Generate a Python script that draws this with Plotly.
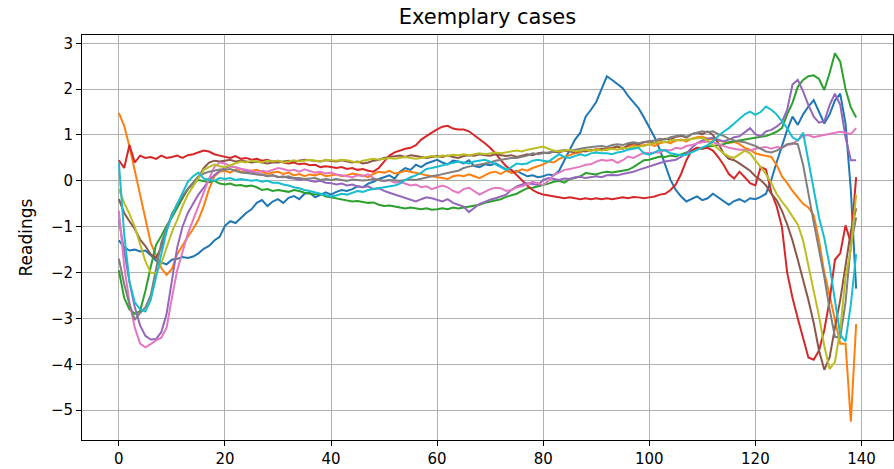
import plotly.graph_objects as go

# Ten exemplary heartbeat recordings, 140 samples each
sample_index = list(range(140))

case_0 = [
    -1.30, -1.45, -1.52, -1.50, -1.54, -1.52, -1.62, -1.74, -1.78, -1.82,
    -1.72, -1.70, -1.66, -1.68, -1.65, -1.58, -1.48, -1.42, -1.30, -1.22,
    -0.98, -0.88, -0.92, -0.80, -0.70, -0.62, -0.48, -0.42, -0.55, -0.45,
    -0.40, -0.48, -0.37, -0.33, -0.40, -0.28, -0.26, -0.36, -0.30, -0.25,
    -0.30, -0.24, -0.20, -0.22, -0.18, -0.12, -0.14, -0.06, -0.02, 0.04,
    0.08, 0.12, 0.05, 0.20, 0.28, 0.24, 0.35, 0.30, 0.38, 0.42,
    0.46, 0.40, 0.36, 0.44, 0.42, 0.38, 0.45, 0.32, 0.30, 0.36,
    0.34, 0.38, 0.32, 0.25, 0.18, 0.22, 0.16, 0.10, 0.12, 0.08,
    0.10, 0.14, 0.12, 0.22, 0.45, 0.68, 0.90, 1.05, 1.40, 1.55,
    1.72, 2.00, 2.28, 2.20, 2.12, 2.02, 1.85, 1.72, 1.58, 1.38,
    1.18, 0.95, 0.68, 0.35, 0.02, -0.20, -0.34, -0.45, -0.40, -0.34,
    -0.42, -0.38, -0.28, -0.36, -0.45, -0.52, -0.44, -0.40, -0.46, -0.38,
    -0.40, -0.35, -0.28, 0.02, 0.40, 0.75, 1.11, 1.40, 1.22, 1.45,
    1.62, 1.76, 1.50, 1.25, 1.45, 1.75, 1.90, 1.25, -0.20, -2.35,
]

case_1 = [
    1.48, 1.20, 0.75, 0.22, -0.36, -0.88, -1.35, -1.62, -1.90, -2.05,
    -1.92, -1.60, -1.40, -1.22, -1.05, -0.85, -0.55, -0.18, 0.10, 0.20,
    0.22, 0.18, 0.25, 0.20, 0.18, 0.22, 0.24, 0.20, 0.15, 0.18,
    0.20, 0.15, 0.18, 0.12, 0.15, 0.10, 0.14, 0.12, 0.16, 0.10,
    0.12, 0.14, 0.10, 0.12, 0.16, 0.14, 0.12, 0.08, 0.15, 0.20,
    0.18, 0.22, 0.16, 0.18, 0.22, 0.20, 0.18, 0.15, 0.12, 0.10,
    0.08, 0.05, 0.04, 0.10, 0.12, 0.10, 0.14, 0.10, 0.06, 0.12,
    0.18, 0.20, 0.15, 0.22, 0.18, 0.20, 0.25, 0.22, 0.28, 0.32,
    0.36, 0.42, 0.40, 0.48, 0.52, 0.55, 0.60, 0.62, 0.68, 0.65,
    0.70, 0.68, 0.72, 0.70, 0.74, 0.72, 0.75, 0.78, 0.76, 0.78,
    0.80, 0.76, 0.82, 0.85, 0.82, 0.88, 0.90, 0.86, 0.92, 0.95,
    0.96, 0.92, 0.90, 0.88, 0.86, 0.82, 0.85, 0.80, 0.72, 0.68,
    0.60, 0.57, 0.55, 0.52, 0.35, 0.10, -0.05, -0.22, -0.36, -0.50,
    -0.58, -0.75, -1.30, -2.00, -2.50, -3.00, -3.55, -3.55, -5.25, -3.12,
]

case_2 = [
    -1.95, -2.55, -2.80, -2.90, -2.84, -2.40, -1.88, -1.40, -1.20, -0.98,
    -0.80, -0.58, -0.38, -0.18, -0.05, 0.02, 0.00, -0.03, 0.00, -0.06,
    -0.08, -0.06, -0.10, -0.09, -0.12, -0.10, -0.14, -0.20, -0.18, -0.22,
    -0.20, -0.22, -0.24, -0.20, -0.22, -0.26, -0.28, -0.30, -0.28, -0.34,
    -0.36, -0.38, -0.40, -0.42, -0.45, -0.44, -0.46, -0.48, -0.47, -0.52,
    -0.55, -0.54, -0.56, -0.58, -0.60, -0.58, -0.60, -0.62, -0.60, -0.63,
    -0.62, -0.60, -0.62, -0.58, -0.60, -0.58, -0.56, -0.54, -0.52, -0.48,
    -0.45, -0.42, -0.40, -0.35, -0.32, -0.28, -0.22, -0.16, -0.15, -0.12,
    -0.10, -0.06, -0.02, 0.00, -0.04, 0.04, 0.06, 0.10, 0.17, 0.15,
    0.14, 0.18, 0.20, 0.18, 0.20, 0.21, 0.24, 0.30, 0.38, 0.45,
    0.46, 0.50, 0.53, 0.52, 0.55, 0.53, 0.58, 0.62, 0.66, 0.72,
    0.70, 0.75, 0.76, 0.78, 0.80, 0.84, 0.86, 0.89, 0.90, 0.92,
    0.94, 0.97, 0.98, 1.02, 1.07, 1.15, 1.45, 1.70, 2.05, 2.20,
    2.28, 2.30, 2.22, 1.98, 2.35, 2.78, 2.60, 2.00, 1.60, 1.38,
]

case_3 = [
    0.45, 0.28, 0.78, 0.40, 0.55, 0.50, 0.52, 0.48, 0.55, 0.50,
    0.52, 0.55, 0.50, 0.56, 0.58, 0.62, 0.66, 0.64, 0.58, 0.55,
    0.52, 0.50, 0.54, 0.48, 0.50, 0.46, 0.48, 0.44, 0.46, 0.42,
    0.44, 0.40, 0.38, 0.40, 0.36, 0.38, 0.34, 0.35, 0.30, 0.32,
    0.30, 0.28, 0.30, 0.26, 0.28, 0.24, 0.26, 0.22, 0.20, 0.28,
    0.42, 0.55, 0.62, 0.66, 0.70, 0.72, 0.78, 0.90, 0.98, 1.05,
    1.12, 1.18, 1.20, 1.14, 1.12, 1.12, 1.08, 1.00, 0.92, 0.82,
    0.72, 0.60, 0.45, 0.32, 0.24, 0.12, 0.02, -0.10, -0.20, -0.26,
    -0.30, -0.32, -0.34, -0.35, -0.38, -0.36, -0.38, -0.40, -0.38, -0.40,
    -0.38, -0.40, -0.38, -0.40, -0.38, -0.36, -0.38, -0.35, -0.36, -0.38,
    -0.36, -0.34, -0.30, -0.28, -0.20, -0.08, 0.15, 0.45, 0.66, 0.72,
    0.70, 0.72, 0.66, 0.52, 0.35, 0.15, 0.05, 0.20, 0.08, -0.05,
    -0.10, 0.30, 0.25, -0.25, -0.55, -1.00, -2.00, -2.55, -3.00, -3.45,
    -3.85, -3.90, -3.70, -3.25, -2.60, -1.72, -1.58, -0.97, -1.35, 0.08,
]

case_4 = [
    -0.85, -1.55, -2.20, -2.75, -3.15, -3.38, -3.46, -3.45, -3.30, -2.90,
    -2.20, -1.45, -1.00, -0.70, -0.50, -0.30, -0.15, 0.02, 0.12, 0.22,
    0.28, 0.32, 0.30, 0.26, 0.22, 0.20, 0.15, 0.14, 0.10, 0.12,
    0.08, 0.10, 0.06, 0.05, 0.02, 0.04, 0.00, -0.02, 0.00, -0.04,
    -0.05, -0.08, -0.06, -0.10, -0.08, -0.12, -0.14, -0.12, -0.18, -0.16,
    -0.22, -0.26, -0.30, -0.34, -0.38, -0.42, -0.45, -0.40, -0.36, -0.38,
    -0.42, -0.45, -0.40, -0.48, -0.52, -0.56, -0.68, -0.60, -0.50, -0.46,
    -0.41, -0.38, -0.34, -0.30, -0.20, -0.12, -0.08, -0.05, -0.07, -0.09,
    0.02, 0.06, 0.04, 0.02, 0.05, 0.04, 0.08, 0.09, 0.06, 0.08,
    0.10, 0.08, 0.12, 0.13, 0.12, 0.15, 0.17, 0.20, 0.24, 0.28,
    0.31, 0.35, 0.39, 0.42, 0.44, 0.46, 0.52, 0.60, 0.72, 0.82,
    0.88, 0.92, 0.94, 0.90, 0.86, 0.90, 0.95, 0.97, 1.06, 1.15,
    1.02, 0.97, 1.08, 1.11, 1.18, 1.28, 1.55, 2.10, 2.20, 1.95,
    1.65, 1.40, 1.27, 1.30, 1.65, 1.90, 1.66, 0.95, 0.45, 0.45,
]

case_5 = [
    -0.40, -0.70, -0.88, -1.05, -1.28, -1.42, -1.60, -1.68, -1.45, -1.10,
    -0.72, -0.52, -0.34, -0.18, -0.05, 0.08, 0.28, 0.40, 0.44, 0.42,
    0.44, 0.46, 0.42, 0.44, 0.42, 0.40, 0.42, 0.40, 0.38, 0.40,
    0.40, 0.42, 0.44, 0.42, 0.44, 0.46, 0.45, 0.44, 0.42, 0.45,
    0.44, 0.42, 0.45, 0.43, 0.40, 0.42, 0.38, 0.40, 0.44, 0.46,
    0.50, 0.52, 0.54, 0.55, 0.52, 0.56, 0.54, 0.52, 0.50, 0.52,
    0.54, 0.52, 0.55, 0.52, 0.50, 0.54, 0.56, 0.55, 0.58, 0.56,
    0.55, 0.58, 0.56, 0.54, 0.56, 0.52, 0.55, 0.58, 0.56, 0.60,
    0.62, 0.60, 0.64, 0.62, 0.66, 0.64, 0.62, 0.66, 0.64, 0.68,
    0.66, 0.70, 0.68, 0.72, 0.75, 0.70, 0.78, 0.82, 0.80, 0.84,
    0.86, 0.82, 0.88, 0.92, 0.90, 0.96, 0.98, 0.94, 1.02, 1.05,
    1.02, 1.08, 1.00, 0.82, 0.60, 0.48, 0.45, 0.38, 0.30, 0.22,
    0.10, 0.02, -0.10, -0.28, -0.42, -0.65, -0.95, -1.30, -1.72, -2.15,
    -2.60, -3.10, -3.70, -4.12, -3.85, -3.20, -2.60, -1.85, -1.10, -0.60,
]

case_6 = [
    -0.65, -1.85, -2.65, -3.20, -3.55, -3.63, -3.56, -3.48, -3.42, -3.20,
    -2.55, -1.95, -1.55, -1.15, -0.85, -0.55, -0.25, 0.05, 0.30, 0.40,
    0.38, 0.32, 0.30, 0.26, 0.24, 0.22, 0.18, 0.22, 0.20, 0.24,
    0.28, 0.26, 0.22, 0.24, 0.20, 0.25, 0.22, 0.18, 0.20, 0.16,
    0.18, 0.14, 0.12, 0.10, 0.08, 0.12, 0.10, 0.14, 0.06, 0.02,
    -0.01, 0.02, -0.04, -0.02, -0.06, -0.10, -0.08, -0.14, -0.12, -0.18,
    -0.14, -0.10, -0.14, -0.22, -0.26, -0.18, -0.15, -0.22, -0.30, -0.24,
    -0.18, -0.15, -0.16, -0.22, -0.20, -0.14, -0.12, -0.07, -0.02, -0.05,
    -0.09, 0.00, 0.13, 0.18, 0.24, 0.26, 0.28, 0.31, 0.35, 0.36,
    0.42, 0.46, 0.44, 0.46, 0.39, 0.45, 0.53, 0.50, 0.56, 0.61,
    0.60, 0.62, 0.62, 0.68, 0.66, 0.72, 0.70, 0.76, 0.78, 0.82,
    0.84, 0.86, 0.84, 0.80, 0.76, 0.72, 0.70, 0.68, 0.68, 0.66,
    0.70, 0.72, 0.74, 0.70, 0.74, 0.72, 0.78, 0.80, 0.88, 0.98,
    1.00, 0.95, 0.98, 1.00, 1.02, 1.05, 1.07, 1.05, 1.02, 1.15,
]

case_7 = [
    -1.70, -2.25, -2.70, -3.03, -2.88, -2.76, -2.50, -1.90, -1.35, -1.02,
    -0.75, -0.50, -0.32, -0.18, -0.02, 0.10, 0.16, 0.20, 0.22, 0.25,
    0.24, 0.26, 0.22, 0.18, 0.17, 0.15, 0.14, 0.13, 0.10, 0.12,
    0.09, 0.08, 0.10, 0.06, 0.06, 0.04, 0.05, 0.06, 0.02, 0.04,
    0.02, 0.04, 0.02, 0.00, 0.03, 0.02, 0.01, 0.02, 0.04, 0.02,
    0.00, 0.02, 0.01, 0.00, 0.02, 0.03, 0.02, 0.05, 0.08, 0.10,
    0.12, 0.15, 0.18, 0.20, 0.22, 0.28, 0.31, 0.33, 0.36, 0.38,
    0.40, 0.44, 0.46, 0.48, 0.50, 0.50, 0.52, 0.55, 0.60, 0.58,
    0.60, 0.62, 0.64, 0.66, 0.67, 0.65, 0.68, 0.70, 0.72, 0.74,
    0.75, 0.76, 0.74, 0.78, 0.80, 0.78, 0.82, 0.84, 0.82, 0.85,
    0.86, 0.88, 0.92, 0.90, 0.95, 0.98, 1.00, 0.96, 1.02, 1.05,
    1.08, 1.06, 1.08, 1.02, 0.98, 0.92, 0.88, 0.86, 0.84, 0.80,
    0.76, 0.70, 0.64, 0.62, 0.66, 0.72, 0.80, 0.82, 0.80, 0.35,
    -0.30, -0.90, -1.50, -2.10, -2.80, -3.40, -3.42, -2.65, -1.40, -0.80,
]

case_8 = [
    -0.18, -0.48, -0.72, -1.00, -1.38, -1.75, -2.00, -2.02, -1.80, -1.45,
    -1.12, -0.85, -0.55, -0.30, -0.12, 0.05, 0.24, 0.30, 0.36, 0.32,
    0.30, 0.34, 0.38, 0.42, 0.40, 0.44, 0.42, 0.40, 0.44, 0.42,
    0.44, 0.40, 0.42, 0.45, 0.42, 0.44, 0.46, 0.44, 0.42, 0.46,
    0.45, 0.44, 0.46, 0.45, 0.42, 0.40, 0.44, 0.46, 0.48, 0.46,
    0.48, 0.50, 0.48, 0.50, 0.52, 0.50, 0.48, 0.50, 0.52, 0.54,
    0.52, 0.55, 0.54, 0.57, 0.56, 0.58, 0.56, 0.58, 0.60, 0.58,
    0.60, 0.62, 0.60, 0.62, 0.64, 0.66, 0.64, 0.68, 0.70, 0.72,
    0.75, 0.70, 0.66, 0.64, 0.66, 0.68, 0.64, 0.66, 0.68, 0.66,
    0.68, 0.66, 0.68, 0.70, 0.68, 0.72, 0.70, 0.74, 0.75, 0.76,
    0.80, 0.82, 0.86, 0.84, 0.88, 0.89, 0.88, 0.90, 0.92, 0.93,
    0.94, 0.88, 0.78, 0.70, 0.60, 0.53, 0.50, 0.58, 0.66, 0.60,
    0.45, 0.30, 0.15, -0.05, -0.28, -0.45, -0.60, -0.78, -0.95, -1.30,
    -1.85, -2.35, -2.95, -3.60, -4.10, -3.95, -3.25, -2.10, -1.50, -0.30,
]

case_9 = [
    0.40, -1.15, -2.20, -2.65, -2.80, -2.85, -2.60, -2.10, -1.55, -1.10,
    -0.75, -0.50, -0.25, -0.02, 0.10, 0.18, 0.05, 0.02, 0.00, 0.06,
    0.04, 0.06, 0.02, 0.04, 0.02, 0.00, 0.02, -0.02, 0.00, -0.04,
    -0.04, -0.08, -0.10, -0.14, -0.16, -0.20, -0.22, -0.25, -0.28, -0.30,
    -0.34, -0.32, -0.28, -0.30, -0.26, -0.22, -0.24, -0.20, -0.18, -0.16,
    -0.14, -0.12, -0.10, -0.06, 0.02, 0.08, 0.12, 0.18, 0.26, 0.28,
    0.31, 0.34, 0.36, 0.40, 0.42, 0.40, 0.38, 0.42, 0.44, 0.46,
    0.42, 0.36, 0.30, 0.24, 0.30, 0.38, 0.36, 0.38, 0.44, 0.46,
    0.44, 0.42, 0.50, 0.58, 0.52, 0.50, 0.54, 0.58, 0.55, 0.60,
    0.62, 0.60, 0.60, 0.58, 0.62, 0.64, 0.68, 0.70, 0.72, 0.60,
    0.57, 0.62, 0.68, 0.66, 0.60, 0.58, 0.56, 0.57, 0.62, 0.68,
    0.72, 0.78, 0.86, 0.98, 1.07, 1.15, 1.25, 1.35, 1.45, 1.51,
    1.44, 1.50, 1.62, 1.55, 1.45, 1.30, 1.15, 0.95, 0.88, 1.05,
    0.45, -0.15, -0.80, -1.25, -1.85, -2.60, -3.35, -3.50, -2.70, -1.60,
]

cases = [case_0, case_1, case_2, case_3, case_4,
         case_5, case_6, case_7, case_8, case_9]

palette = ["#1f77b4", "#ff7f0e", "#2ca02c", "#d62728", "#9467bd",
           "#8c564b", "#e377c2", "#7f7f7f", "#bcbd22", "#17becf"]

x_ticks = [0, 20, 40, 60, 80, 100, 120, 140]
y_ticks = [-5, -4, -3, -2, -1, 0, 1, 2, 3]

fig = go.Figure()
for values, color in zip(cases, palette):
    fig.add_trace(go.Scatter(
        x=sample_index, y=values, mode="lines",
        line=dict(color=color, width=2), showlegend=False,
        hoverinfo="skip",
    ))

axis_common = dict(
    showgrid=True, gridcolor="#b0b0b0", gridwidth=1,
    zeroline=False, showline=True, linecolor="black", linewidth=1,
    mirror=True, ticks="outside", ticklen=5, tickwidth=1,
    tickcolor="black", tickfont=dict(size=15, color="black"),
)

fig.update_layout(
    width=894, height=469,
    margin=dict(l=82, r=1, t=35, b=29),
    paper_bgcolor="white", plot_bgcolor="white",
    font=dict(family="DejaVu Sans", color="black"),
    title=dict(text="Exemplary cases", x=0.5, xref="paper",
               y=1 - 17 / 469, yref="container", yanchor="middle",
               xanchor="center", font=dict(size=21, color="black")),
    xaxis=dict(range=[-6.95, 145.95], tickvals=x_ticks, **axis_common),
    yaxis=dict(range=[-5.65, 3.18], tickvals=y_ticks, **axis_common),
    annotations=[dict(
        text="Readings", textangle=-90, xref="paper", yref="paper",
        x=0, y=0.5, xshift=-57, xanchor="center", yanchor="middle",
        showarrow=False, font=dict(size=17, color="black"),
    )],
)

fig.write_html("out.html")
